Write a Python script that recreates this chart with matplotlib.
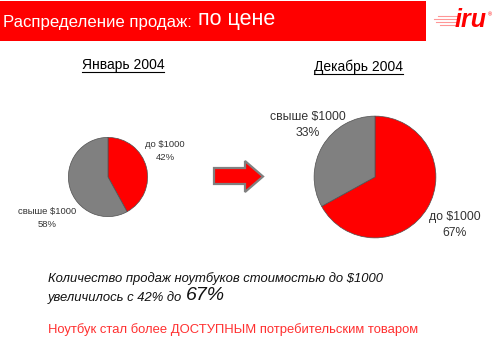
import matplotlib
matplotlib.use('Agg')
import matplotlib.pyplot as plt
from matplotlib.patches import Rectangle, Polygon

plt.rcParams['font.family'] = ['Liberation Sans', 'DejaVu Sans']

# data
categories = ['до $1000', 'свыше $1000']
jan_values = [42, 58]
dec_values = [67, 33]
pie_colors = ['#ff0000', '#808080']

title_main = 'Распределение продаж:'
title_sub = 'по цене'
jan_title = 'Январь 2004'
dec_title = 'Декабрь 2004'
note_line1 = 'Количество продаж ноутбуков стоимостью до $1000'
note_line2 = 'увеличилось с 42% до '
note_big = '67%'
conclusion = 'Ноутбук стал более ДОСТУПНЫМ потребительским товаром'

W, H = 500, 343
fig = plt.figure(figsize=(W / 100, H / 100), dpi=100)
fig.patch.set_facecolor('white')

# background axes in pixel coords
bg = fig.add_axes([0, 0, 1, 1])
bg.set_xlim(0, W)
bg.set_ylim(H, 0)
bg.axis('off')

# header banner
bg.add_patch(Rectangle((0, 1), 426, 40, facecolor='#ff0000', edgecolor='none'))
t1 = bg.text(3, 27, title_main, color='white', fontsize=12.1, va='baseline')
bg.annotate(' ' + title_sub, xy=(1, 0), xycoords=t1, color='white',
            fontsize=15.5, va='bottom', ha='left')

# logo
for yy, x0 in [(16, 438), (19, 434), (22, 436), (25, 440)]:
    bg.plot([x0, 458], [yy, yy], color='#ff5050', lw=0.8, alpha=0.6)
bg.text(471, 20, 'iru', color='#ff0000', fontsize=18, fontweight='bold',
        fontstyle='italic', ha='center', va='center')
bg.text(490, 15, '®', color='#ff0000', fontsize=4, ha='center', va='center')

# headings
def heading(x, y, s):
    t = bg.text(x, y, s, fontsize=10, ha='center', va='center', color='black')
    fig.canvas.draw()
    bb = t.get_window_extent().transformed(bg.transData.inverted())
    x0, x1 = sorted([bb.x0, bb.x1])
    yb = max(bb.y0, bb.y1)
    bg.plot([x0, x1], [yb, yb], color='black', lw=0.8)

heading(123, 65, jan_title)
heading(358, 67, dec_title)

# arrow
arrow = Polygon([(214, 168), (245, 168), (245, 161), (263, 176.5), (245, 192),
                 (245, 184), (214, 184)], closed=True,
                facecolor='#ff0000', edgecolor='#808080', lw=1.6)
bg.add_patch(arrow)

# pies
def draw_pie(cx, cy, r, values):
    ax = fig.add_axes([(cx - r) / W, (H - cy - r) / H, 2 * r / W, 2 * r / H])
    ax.pie(values, colors=pie_colors, startangle=90, counterclock=False,
           wedgeprops=dict(edgecolor='#505050', linewidth=0.5))
    ax.set_xlim(-1.01, 1.01)
    ax.set_ylim(-1.01, 1.01)
    ax.set_aspect('equal')
    ax.axis('off')
    return ax

draw_pie(108, 177, 40, jan_values)
draw_pie(375, 177, 61.5, dec_values)

lbl = dict(color='#333333', ha='center', va='center', linespacing=1.55)
bg.text(165, 151, f'{categories[0]}\n{jan_values[0]}%', fontsize=6.8, **lbl)
bg.text(47, 218, f'{categories[1]}\n{jan_values[1]}%', fontsize=6.8, **lbl)
bg.text(308, 125, f'{categories[1]}\n{dec_values[1]}%', fontsize=8.8, **lbl)
bg.text(455, 225, f'{categories[0]}\n{dec_values[0]}%', fontsize=8.8, **lbl)

# notes
bg.text(48, 279, note_line1, fontsize=9.4, fontstyle='italic', color='#111111',
        va='center')
t2 = bg.text(48, 301, note_line2, fontsize=9.4, fontstyle='italic',
             color='#111111', va='baseline')
bg.annotate(note_big, xy=(1, 0), xycoords=t2, fontsize=14,
            fontstyle='italic', color='#111111', va='bottom', ha='left')
bg.text(48, 330, conclusion, fontsize=9.4, color='#ff3030', va='center')

fig.savefig('out.png', dpi=100)
